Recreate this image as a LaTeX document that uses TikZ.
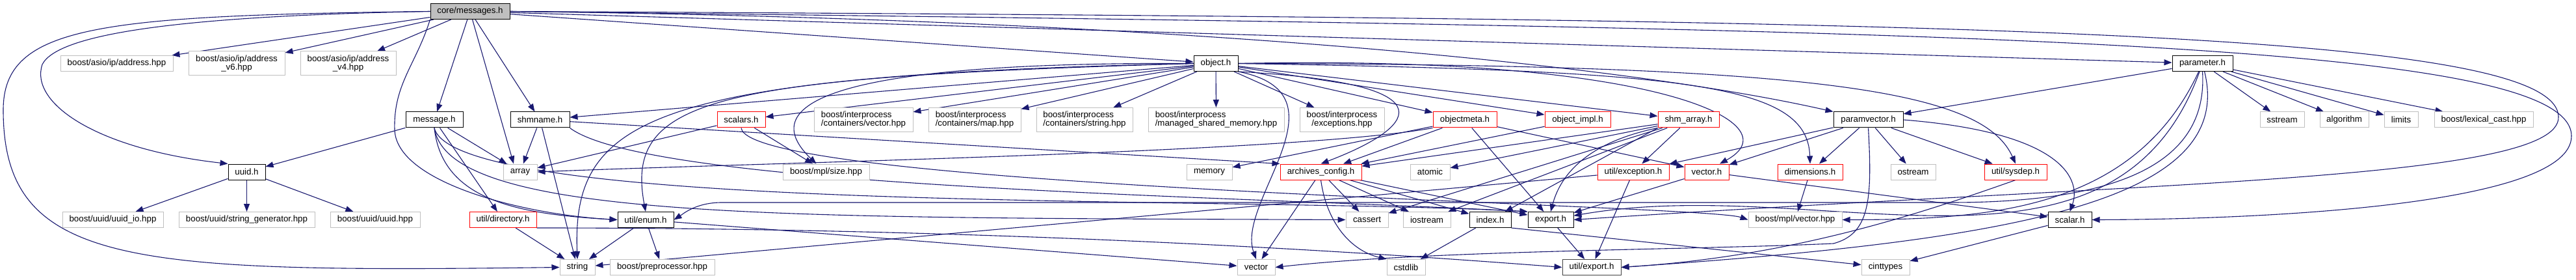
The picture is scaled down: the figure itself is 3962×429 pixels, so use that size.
\documentclass[tikz,border=0pt]{standalone}
\usepackage{fontspec}
\setmainfont{Liberation Sans}
\usetikzlibrary{arrows.meta}
\usetikzlibrary{backgrounds}
\definecolor{edgeblue}{HTML}{191970}
\definecolor{sysgray}{HTML}{BFBFBF}
\definecolor{exportgray}{HTML}{404040}
\tikzset{
    x=1pt, y=1pt,
    hdr/.style={
        draw=black,
        line width=1pt,
        fill=white,
        inner sep=0pt,
        minimum height=24pt,
        font=\fontsize{13.3pt}{13pt}\selectfont
    },
    hdrred/.style={hdr, draw=red},
    hdrsys/.style={hdr, draw=sysgray},
    twoline/.style={minimum height=37pt},
    dep/.style={
        draw=edgeblue,
        line width=1.1pt,
        -{Triangle[length=12pt, width=9pt]}
    },
    every edge/.append style={dep}
}
\begin{document}
\begin{tikzpicture}
    \useasboundingbox (0,0) rectangle (3962,429);

    % top
    \node[hdr, fill=sysgray, minimum width=122pt] (cm) at (723,411.5) {core/messages.h};

    % second row
    \node[hdrsys, minimum width=173pt] (addr) at (179.5,331.5) {boost/asio/ip/address.hpp};
    \node[hdrsys, twoline, minimum width=148pt, align=center] (addrsix) at (364,331.5) {boost/asio/ip/address\\\_v6.hpp};
    \node[hdrsys, twoline, minimum width=147pt, align=center] (addrfour) at (535.5,331.5) {boost/asio/ip/address\\\_v4.hpp};
    \node[hdr, minimum width=68pt] (object) at (1870,331.5) {object.h};
    \node[hdr, minimum width=93pt] (parameter) at (3387.5,331.5) {parameter.h};

    % third row
    \node[hdr, minimum width=88pt] (message) at (668,245) {message.h};
    \node[hdr, minimum width=91pt] (shmname) at (830.5,245) {shmname.h};
    \node[hdrred, minimum width=74pt] (scalars) at (1140,245) {scalars.h};
    \node[hdrsys, twoline, minimum width=152pt, align=left] (ipcvector) at (1328,245) {boost/interprocess\\/containers/vector.hpp};
    \node[hdrsys, twoline, minimum width=142pt, align=left] (ipcmap) at (1499,245) {boost/interprocess\\/containers/map.hpp};
    \node[hdrsys, twoline, minimum width=148pt, align=left] (ipcstring) at (1668,245) {boost/interprocess\\/containers/string.hpp};
    \node[hdrsys, twoline, minimum width=209pt, align=left] (ipcshm) at (1870.5,245) {boost/interprocess\\/managed\_shared\_memory.hpp};
    \node[hdrsys, twoline, minimum width=130pt, align=center] (ipcexc) at (2064,245) {boost/interprocess\\/exceptions.hpp};
    \node[hdrred, minimum width=98pt] (objectmeta) at (2253,245) {objectmeta.h};
    \node[hdrred, minimum width=101pt] (objectimpl) at (2426.5,245) {object\_impl.h};
    \node[hdrred, minimum width=94pt] (shmarray) at (2597,245) {shm\_array.h};
    \node[hdr, minimum width=107pt] (paramvector) at (2873.5,245) {paramvector.h};
    \node[hdrsys, minimum width=68pt] (sstream) at (3510,245) {sstream};
    \node[hdrsys, minimum width=75pt] (algorithm) at (3605.5,245) {algorithm};
    \node[hdrsys, minimum width=52pt] (limits) at (3693,245) {limits};
    \node[hdrsys, minimum width=152pt] (lexical) at (3820,245) {boost/lexical\_cast.hpp};

    % fourth row
    \node[hdr, minimum width=57pt] (uuid) at (379.5,165) {uuid.h};
    \node[hdrsys, minimum width=52pt] (array) at (800,165) {array};
    \node[hdrsys, minimum width=133pt] (mplsize) at (1270.5,165) {boost/mpl/size.hpp};
    \node[hdrsys, minimum width=70pt] (memory) at (1860,165) {memory};
    \node[hdrred, minimum width=125pt] (archcfg) at (2031.5,165) {archives\_config.h};
    \node[hdrsys, minimum width=61pt] (atomic) at (2199.5,165) {atomic};
    \node[hdrred, minimum width=110pt] (utilexc) at (2512,165) {util/exception.h};
    \node[hdrred, minimum width=68pt] (vectorh) at (2625,165) {vector.h};
    \node[hdrred, minimum width=100pt] (dimensions) at (2784,165) {dimensions.h};
    \node[hdrsys, minimum width=69pt] (ostream) at (2942.5,165) {ostream};
    \node[hdrred, minimum width=96pt] (sysdep) at (3100,165) {util/sysdep.h};

    % fifth row
    \node[hdrsys, minimum width=155pt] (uuidio) at (173.5,91.5) {boost/uuid/uuid\_io.hpp};
    \node[hdrsys, minimum width=209pt] (strgen) at (379.5,91.5) {boost/uuid/string\_generator.hpp};
    \node[hdrsys, minimum width=138pt] (uuidhpp) at (577,91.5) {boost/uuid/uuid.hpp};
    \node[hdrred, minimum width=103pt] (directory) at (773.5,91.5) {util/directory.h};
    \node[hdr, minimum width=86pt] (enum) at (993,91.5) {util/enum.h};
    \node[hdrsys, minimum width=65pt] (cassert) at (2102.5,91.5) {cassert};
    \node[hdrsys, minimum width=73pt] (iostream) at (2194.5,91.5) {iostream};
    \node[hdr, minimum width=64pt] (index) at (2292,91.5) {index.h};
    \node[hdr, minimum width=70pt] (export) at (2385,91.5) {export.h};
    \node[hdrsys, minimum width=144pt] (mplvector) at (2761,91.5) {boost/mpl/vector.hpp};
    \node[hdr, minimum width=67pt] (scalar) at (3183.5,91.5) {scalar.h};

    % bottom row
    \node[hdrsys, minimum width=54pt] (string) at (888,18.5) {string};
    \node[hdrsys, minimum width=161pt] (preproc) at (1018.5,18.5) {boost/preprocessor.hpp};
    \node[hdrsys, minimum width=58pt] (vector) at (1932,18.5) {vector};
    \node[hdrsys, minimum width=59pt] (cstdlib) at (2162.5,18.5) {cstdlib};
    \node[hdr, draw=exportgray, minimum width=90pt] (utilexport) at (2448,18.5) {util/export.h};
    \node[hdrsys, minimum width=74pt] (cinttypes) at (2900,18.5) {cinttypes};

    \begin{scope}[on background layer]
        % core/messages.h
        \draw (cm) edge (addr) edge (addrsix) edge (addrfour) edge (message)
            edge ([xshift=-10pt]array.north) edge (shmname) edge (object) edge (parameter);
        \draw[dep] (cm.west) .. controls (300,405) and (90,380) .. (65,330)
            .. controls (45,270) and (150,200) .. (uuid.north west);
        \draw[dep] (cm.west) .. controls (150,405) and (5,390) .. (5,260)
            .. controls (5,20) and (200,10) .. (string.west);
        \draw[dep] (cm.south west) .. controls (640,330) and (605,300) .. (607,230)
            .. controls (609,150) and (800,100) .. (enum.west);
        \draw[dep] (cm.east) .. controls (1800,400) and (2500,330) .. (paramvector.north west);
        \draw[dep] (cm.east) .. controls (3000,385) and (3955,370) .. (3955,220)
            .. controls (3955,110) and (3450,92) .. (scalar.east);
        \draw[dep] (cm.east) .. controls (3000,400) and (3930,385) .. (3935,250)
            .. controls (3940,150) and (3300,150) .. (export.east);

        % uuid.h, message.h, shmname.h, scalars.h
        \draw (uuid) edge (uuidio) edge (strgen) edge (uuidhpp);
        \draw (message) edge (uuid) edge (directory) edge (array);
        \draw[dep] (message.south) .. controls (680,120) and (800,100) .. (enum.west);
        \draw[dep] (message.south) .. controls (690,90) and (1200,95) .. (cassert.west);
        \draw[dep] (message.south) .. controls (700,100) and (1900,128) .. (export.north west);
        \draw (shmname) edge (array) edge (string) edge (archcfg.north west);
        \draw[dep] (shmname.south east) .. controls (1000,140) and (1900,128) .. (export.north west);
        \draw (scalars) edge (array) edge (mplsize);
        \draw[dep] (scalars.south) .. controls (1150,140) and (2620,115) .. (mplvector.west);

        % object.h
        \draw (object) edge (shmname) edge (scalars) edge (ipcvector) edge (ipcmap)
            edge (ipcstring) edge (ipcshm) edge (ipcexc) edge (objectmeta)
            edge (objectimpl) edge (shmarray);
        \draw[dep] (object.west) .. controls (1000,313) and (880,250) .. (string.north);
        \draw[dep] (object.west) .. controls (1100,310) and (960,280) .. (enum.north);
        \draw[dep] (object.west) .. controls (1200,335) and (1180,250) .. ([xshift=-15pt]mplsize.north);
        \draw[dep] (object.south east) .. controls (2250,300) and (2170,230) .. (archcfg.north);
        \draw[dep] (object.south east) .. controls (2080,285) and (1900,120) .. (vector.north);
        \draw[dep] (object.east) .. controls (2550,345) and (2760,240) .. ([xshift=20pt]vectorh.north);
        \draw[dep] (object.east) .. controls (2600,320) and (2780,300) .. (dimensions.north);
        \draw[dep] (object.east) .. controls (2800,330) and (3050,290) .. (sysdep.north);

        % objectmeta.h, object_impl.h, shm_array.h
        \draw[dep] (objectmeta.south west) .. controls (2000,195) and (1200,180) .. (array.east);
        \draw (objectmeta) edge (memory) edge (archcfg) edge (export) edge (vectorh);
        \draw (objectimpl) edge (archcfg);
        \draw (shmarray) edge (archcfg) edge (atomic) edge (utilexc) edge (cassert) edge (iostream);
        \draw (shmarray.south west) edge (index);
        \draw[dep] (shmarray.south west) .. controls (2440,210) and (2400,160) .. (export.north);

        % archives_config.h
        \draw (archcfg) edge (vector) edge (cassert) edge (iostream) edge (index) edge (export);
        \draw[dep] (archcfg.south) .. controls (2040,90) and (2075,45) .. (cstdlib.north west);

        % paramvector.h
        \draw (paramvector) edge (vectorh) edge (utilexc) edge (dimensions) edge (ostream) edge (sysdep);
        \draw[dep] (paramvector.east) .. controls (3180,225) and (3200,150) .. (scalar.north);
        \draw[dep] (paramvector.south) .. controls (2880,120) and (2875,70) .. (2820,55)
            .. controls (2600,45) and (2200,45) .. (vector.east);

        % parameter.h
        \draw (parameter) edge (paramvector) edge (sstream) edge (algorithm) edge (limits) edge (lexical);
        \draw (parameter) edge[out=245, in=0] (mplvector);
        \draw (parameter) edge[out=250, in=10] (export);
        \draw[dep] (parameter.south) .. controls (3395,200) and (3300,118) .. (3000,118)
            -- (1110,118) .. controls (1070,118) and (1050,100) .. (enum.east);
        \draw[dep] (parameter) .. controls (3440,120) and (3100,60) .. (utilexport.east);

        % lower files
        \draw (vectorh) edge (scalar) edge (export);
        \draw (dimensions) edge (mplvector);
        \draw[dep] (sysdep.south) .. controls (2940,96) and (2750,35) .. (utilexport.east);
        \draw (utilexc) edge (utilexport) edge (string);
        \draw (export) edge (utilexport);
        \draw (index) edge (cstdlib);
        \draw (index.south east) edge (cinttypes);
        \draw (scalar) edge (cinttypes);
        \draw (enum) edge (string) edge (preproc) edge (vector);
        \draw (directory) edge (string);
        \draw[dep] (directory.south east) .. controls (1350,79) and (1880,59) .. (utilexport.west);
    \end{scope}
\end{tikzpicture}
\end{document}
